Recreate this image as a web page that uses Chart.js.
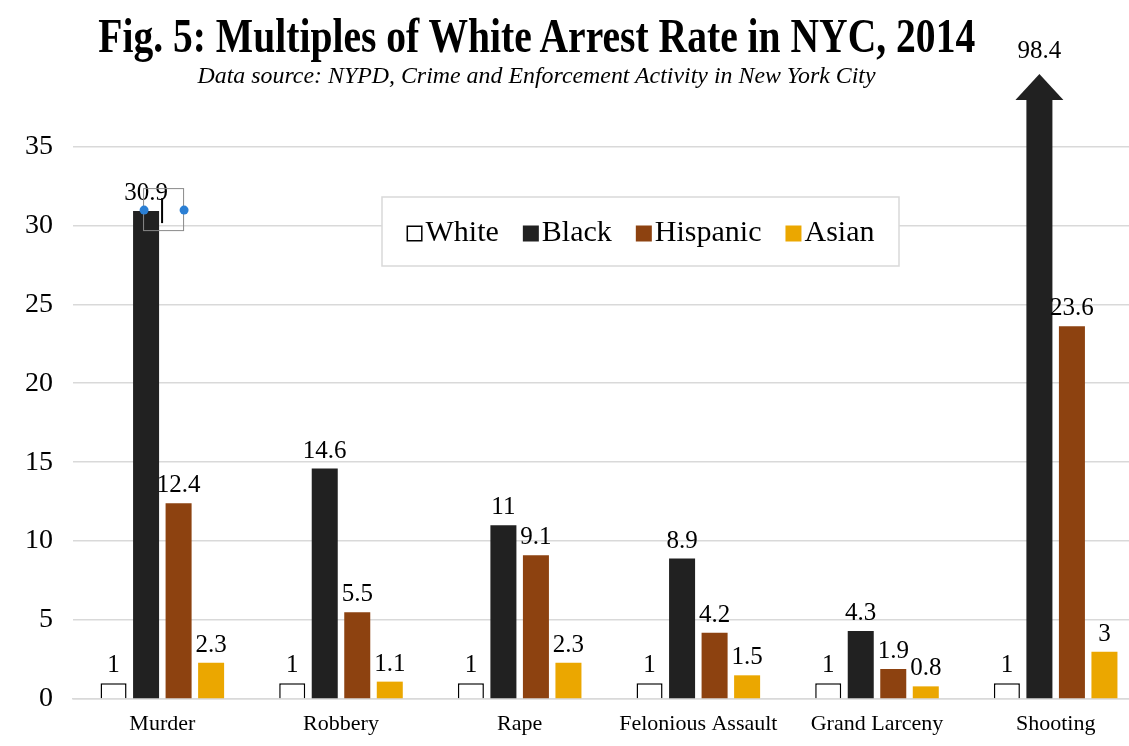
<!DOCTYPE html>
<html>
<head>
<meta charset="utf-8">
<script src="https://cdn.jsdelivr.net/npm/chart.js@4.4.1/dist/chart.umd.min.js"></script>
<style>
  html, body { margin: 0; padding: 0; background: #fff; overflow: hidden; }
  #wrap { position: absolute; left: 0; top: 0; width: 1148px; height: 746px; }
  .head { position: absolute; left: 0; width: 1074px; text-align: center; font-family: "Liberation Serif", "Times New Roman", serif; color: #000; white-space: nowrap; }
  #title { top: 8px; font-size: 48px; font-weight: bold; }
  #subtitle { top: 63px; font-size: 23px; font-style: italic; }
  .head span { display: inline-block; transform-origin: center; }
</style>
</head>
<body>
<div id="wrap"><canvas id="chart"></canvas></div>
<div class="head" id="title"><span>Fig. 5: Multiples of White Arrest Rate in NYC, 2014</span></div>
<div class="head" id="subtitle"><span>Data source: NYPD, Crime and Enforcement Activity in New York City</span></div>
<script>
// values
const categories = ['Murder', 'Robbery', 'Rape', 'Felonious Assault', 'Grand Larceny', 'Shooting'];
const white    = [1, 1, 1, 1, 1, 1];
const black    = [30.9, 14.6, 11, 8.9, 4.3, 98.4];
const hispanic = [12.4, 5.5, 9.1, 4.2, 1.9, 23.6];
const asian    = [2.3, 1.1, 2.3, 1.5, 0.8, 3];
const yTicks   = [0, 5, 10, 15, 20, 25, 30, 35];
const yMax = 38;

const serif = '"Liberation Serif", "Times New Roman", serif';

// squeeze title text to the width seen in the figure
function fitWidth(id, w) {
    const s = document.querySelector('#' + id + ' span');
    const k = w / s.getBoundingClientRect().width;
    s.style.transform = 'scaleX(' + k + ')';
}
fitWidth('title', 877);
fitWidth('subtitle', 678);

// value labels + arrow for the off-scale bar
const valueLabels = {
    id: 'valueLabels',
    afterDatasetsDraw(chart) {
        const ctx = chart.ctx;
        const area = chart.chartArea;
        const yScale = chart.scales.y;
        ctx.save();
        ctx.font = '25px ' + serif;
        ctx.fillStyle = '#000';
        ctx.textAlign = 'center';
        ctx.textBaseline = 'bottom';
        chart.data.datasets.forEach((ds, di) => {
            chart.getDatasetMeta(di).data.forEach((bar, i) => {
                const v = ds.data[i];
                if (v > yScale.max) {
                    const tip = area.top - 25;
                    ctx.fillStyle = ds.backgroundColor;
                    ctx.beginPath();
                    ctx.moveTo(bar.x - 24, area.top + 1);
                    ctx.lineTo(bar.x + 24, area.top + 1);
                    ctx.lineTo(bar.x, tip);
                    ctx.closePath();
                    ctx.fill();
                    ctx.fillStyle = '#000';
                    ctx.fillText(String(v), bar.x, tip - 10);
                } else {
                    ctx.fillText(String(v), bar.x, bar.y - 5);
                }
            });
        });

        // leftover text-box selection around the Murder label
        const m = chart.getDatasetMeta(1).data[0];
        ctx.strokeStyle = '#8a8a8a';
        ctx.lineWidth = 1;
        ctx.strokeRect(m.x - 2.5, m.y - 22.5, 40, 42);
        ctx.strokeStyle = '#000';
        ctx.lineWidth = 2;
        ctx.beginPath();
        ctx.moveTo(m.x + 16, m.y - 13);
        ctx.lineTo(m.x + 16, m.y + 12);
        ctx.stroke();
        ctx.fillStyle = '#2b7fd4';
        [m.x - 2, m.x + 38].forEach(px => {
            ctx.beginPath();
            ctx.arc(px, m.y - 1, 4.5, 0, Math.PI * 2);
            ctx.fill();
        });
        ctx.restore();
    }
};

// legend box inside the plot
const boxLegend = {
    id: 'boxLegend',
    afterDraw(chart) {
        const ctx = chart.ctx;
        const bx = 382, by = 197, bw = 517, bh = 69;
        ctx.save();
        ctx.fillStyle = '#fff';
        ctx.fillRect(bx, by, bw, bh);
        ctx.strokeStyle = '#d9d9d9';
        ctx.lineWidth = 1.5;
        ctx.strokeRect(bx, by, bw, bh);
        ctx.font = '30px ' + serif;
        ctx.textBaseline = 'middle';
        const sq = 16, gap = 3, sep = 24;
        const items = chart.data.datasets.map(ds => ({ ds, w: sq + gap + ctx.measureText(ds.label).width }));
        const total = items.reduce((a, it) => a + it.w, 0) + sep * (items.length - 1);
        let x = bx + (bw - total) / 2;
        const cy = by + bh / 2 + 2;
        items.forEach(it => {
            ctx.fillStyle = it.ds.backgroundColor;
            ctx.fillRect(x, cy - sq / 2, sq, sq);
            if (it.ds.borderWidth) {
                ctx.strokeStyle = it.ds.borderColor;
                ctx.lineWidth = 1.5;
                ctx.strokeRect(x + 0.75, cy - sq / 2 + 0.75, sq - 1.5, sq - 1.5);
            }
            ctx.fillStyle = '#000';
            ctx.fillText(it.ds.label, x + sq + gap, cy);
            x += it.w + sep;
        });
        ctx.restore();
    }
};

new Chart(document.getElementById('chart'), {
    type: 'bar',
    data: {
        labels: categories,
        datasets: [
            { label: 'White', data: white, backgroundColor: '#ffffff', borderColor: '#000', borderWidth: 1.5 },
            { label: 'Black', data: black, backgroundColor: '#212121', borderWidth: 0 },
            { label: 'Hispanic', data: hispanic, backgroundColor: '#8d4210', borderWidth: 0 },
            { label: 'Asian', data: asian, backgroundColor: '#eba700', borderWidth: 0 }
        ]
    },
    options: {
        responsive: true,
        maintainAspectRatio: false,
        animation: false,
        categoryPercentage: 0.728,
        barPercentage: 0.8,
        layout: { padding: { top: 99, right: 3, left: 0, bottom: 0 } },
        plugins: {
            legend: { display: false },
            title: { display: false },
            tooltip: { enabled: false }
        },
        scales: {
            x: {
                grid: { display: false, drawTicks: false },
                border: { color: '#d9d9d9', width: 1.5 },
                ticks: { color: '#000', font: { family: serif, size: 22 }, padding: 12, maxRotation: 0 },
                afterFit: s => { s.height = 47; }
            },
            y: {
                min: 0,
                max: yMax,
                grid: { color: '#d9d9d9', lineWidth: 1.5, drawTicks: false },
                border: { display: false },
                ticks: { color: '#000', font: { family: serif, size: 28 }, padding: 20 },
                afterBuildTicks: s => { s.ticks = yTicks.map(v => ({ value: v })); },
                afterFit: s => { s.width = 73; }
            }
        }
    },
    plugins: [valueLabels, boxLegend]
});
</script>
</body>
</html>
